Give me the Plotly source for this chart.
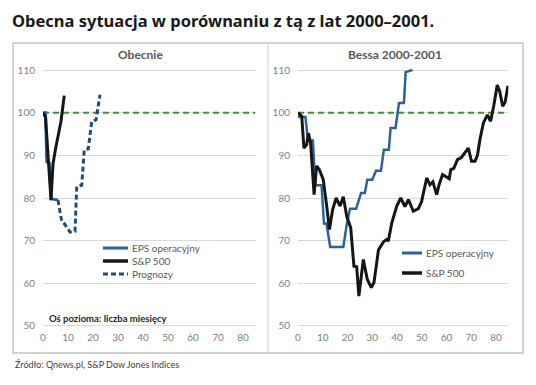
import plotly.graph_objects as go

W, H = 536, 385

# ---------------- data ----------------
# Left panel "Obecnie"
now_eps_x = [0, 1, 1.5, 2.5, 3.3, 6]
now_eps_y = [100, 100, 88.5, 88.2, 79.8, 79.5]
now_sp_x = [0, 1, 3.2, 4, 5, 6.5, 7.2, 8.5]
now_sp_y = [100, 99, 79.5, 88, 91.5, 95.5, 98, 104]
prog_x = [6, 7.5, 8.5, 10.8, 12.8, 13.5, 15.5, 16.5, 18.1, 19.5, 21.2, 22.8]
prog_y = [79.5, 74.5, 74, 72, 72.2, 82.7, 83, 91.3, 91.5, 98, 98.3, 104.2]

# Right panel "Bessa 2000-2001"
bear_eps_x = [0, 0.5, 3, 4, 6, 7, 9.5, 10.5, 11.5, 13, 18.3, 19.7, 21, 23.5, 25.5, 27,
              28, 30, 31.5, 33.5, 34.7, 36.7, 37.4, 39.4, 40.8, 42.8, 43.5, 46.2]
bear_eps_y = [100, 99, 99, 93.5, 93.5, 83, 83, 74, 74, 68.5, 68.5, 73.8, 77.5, 77.5, 81.2, 81.2,
              84.3, 84.3, 86.4, 86.4, 91.3, 91.3, 96.4, 96.4, 102.3, 102.3, 109.5, 110]
bear_sp_x = [0, 1.5, 2.4, 3.5, 4.2, 5.1, 6.5, 7.5, 8.6, 10.2, 11.6, 12.7, 14, 15.4, 17, 18.3,
             19.7, 21.3, 22.6, 23.7, 24.6, 26.4, 28, 29.6, 30.7, 32.5, 34.5, 35.8, 36.5, 37.9,
             39.9, 41.5, 43.2, 44.6, 46.6, 48.6, 49.9, 52, 53.3, 54.5, 56, 57, 58.4, 60, 61.1,
             61.7, 63, 64.4, 66, 68.8, 70.1, 71.5, 72.5, 73.5, 74.9, 76.5, 77.8, 79.1, 80.5,
             81.5, 82.7, 83.7, 84.8]
bear_sp_y = [100, 99.2, 91.7, 92.5, 95.2, 92.9, 80.8, 87.5, 86.7, 84.3, 78.1, 72.6, 77.3, 80, 78.1, 80.3,
             75.7, 73, 64, 63.9, 57, 65.6, 60.9, 59, 60.2, 67.8, 69.7, 70.3, 69.9, 74.2,
             78.1, 80, 78, 79.6, 76.9, 77.5, 79.1, 84.7, 83.1, 83.8, 80.8, 83.1, 85.5, 85, 84.5,
             86.6, 87, 89, 89.5, 91.7, 88.6, 88.6, 90, 93.7, 97.6, 99.5, 98, 101.7, 106.5,
             105, 101.5, 102.5, 106.3]

x_ticks = [0, 10, 20, 30, 40, 50, 60, 70, 80]
y_ticks = [50, 60, 70, 80, 90, 100, 110]
ref_level = 100

title = "Obecna sytuacja w porównaniu z tą z lat 2000–2001."
panel_titles = ["Obecnie", "Bessa 2000-2001"]
legend_left = ["EPS operacyjny", "S&P 500", "Prognozy"]
legend_right = ["EPS operacyjny", "S&P 500"]
axis_note = "Oś pozioma: liczba miesięcy"
source = "Źródło: Qnews.pl, S&P Dow Jones Indices"

# ---------------- styling ----------------
C_EPS = "#2b6494"
C_SP = "#161616"
C_PROG = "#1f4e79"
C_REF = "#4a8c3c"
C_GRID = "#d9d9d9"
C_TICK = "#7f7f7f"
FONT = "Lato"


def px(x):
    return x / W


def py(y):
    return 1 - y / H


fig = go.Figure()

# reference 100 line in both panels
for xa, ya in (("x", "y"), ("x2", "y2")):
    fig.add_trace(go.Scatter(x=[0, 85], y=[ref_level, ref_level], mode="lines",
                             line=dict(color=C_REF, width=2, dash="6px,4px"),
                             xaxis=xa, yaxis=ya, showlegend=False, hoverinfo="skip"))

fig.add_trace(go.Scatter(x=prog_x, y=prog_y, mode="lines",
                         line=dict(color=C_PROG, width=3, dash="5px,3px"),
                         xaxis="x", yaxis="y", showlegend=False))
fig.add_trace(go.Scatter(x=now_eps_x, y=now_eps_y, mode="lines",
                         line=dict(color=C_EPS, width=3), xaxis="x", yaxis="y", showlegend=False))
fig.add_trace(go.Scatter(x=now_sp_x, y=now_sp_y, mode="lines",
                         line=dict(color=C_SP, width=3), xaxis="x", yaxis="y", showlegend=False))

fig.add_trace(go.Scatter(x=bear_eps_x, y=bear_eps_y, mode="lines",
                         line=dict(color=C_EPS, width=2.5), xaxis="x2", yaxis="y2", showlegend=False))
fig.add_trace(go.Scatter(x=bear_sp_x, y=bear_sp_y, mode="lines",
                         line=dict(color=C_SP, width=3), xaxis="x2", yaxis="y2", showlegend=False))

xdom_l = [px(43), px(255.5)]
xdom_r = [px(298), px(508.4)]
ydom = [py(328.1), py(67.9)]

axis_common_x = dict(range=[0, 85], tickvals=x_ticks, showgrid=False, zeroline=False,
                     showline=False, tickfont=dict(family=FONT, size=10, color=C_TICK),
                     ticks="", fixedrange=True, automargin=False, ticklabelstandoff=2)
axis_common_y = dict(range=[49.5, 110.5], tickvals=y_ticks, showgrid=True, gridcolor=C_GRID,
                     gridwidth=1, zeroline=False, showline=False,
                     tickfont=dict(family=FONT, size=10, color=C_TICK), ticks="",
                     ticklabelstandoff=7, fixedrange=True, automargin=False)

shapes = [
    dict(type="rect", xref="paper", yref="paper", x0=px(13), x1=px(523), y0=py(353), y1=py(43),
         line=dict(color="#a6a6a6", width=1)),
    dict(type="line", xref="paper", yref="paper", x0=px(268), x1=px(268), y0=py(353), y1=py(43),
         line=dict(color="#d0d0d0", width=1)),
]

annotations = [
    dict(text=title, x=px(10), y=py(20), xref="paper", yref="paper", xanchor="left", yanchor="middle",
         showarrow=False, font=dict(family="Noto Sans", size=16.5, color="#1a1a1a", weight="bold")),
    dict(text=panel_titles[0], x=px(140), y=py(54), xref="paper", yref="paper", xanchor="center",
         yanchor="middle", showarrow=False, font=dict(family=FONT, size=12, color="#595959", weight="bold")),
    dict(text=panel_titles[1], x=px(395), y=py(54), xref="paper", yref="paper", xanchor="center",
         yanchor="middle", showarrow=False, font=dict(family=FONT, size=12, color="#595959", weight="bold")),
    dict(text=axis_note, x=px(47), y=py(318), xref="paper", yref="paper", xanchor="left",
         yanchor="middle", showarrow=False, font=dict(family=FONT, size=9.5, color="#262626", weight="bold")),
    dict(text=source, x=px(13), y=py(364), xref="paper", yref="paper", xanchor="left",
         yanchor="middle", showarrow=False, font=dict(family=FONT, size=9, color="#404040")),
]

# legends
leg_styles = [dict(color=C_EPS, width=3), dict(color=C_SP, width=3.5),
              dict(color=C_PROG, width=3, dash="5px,3px")]
for i, name in enumerate(legend_left):
    yy = [248, 261, 274][i]
    shapes.append(dict(type="line", xref="paper", yref="paper", x0=px(103), x1=px(128),
                       y0=py(yy), y1=py(yy), line=leg_styles[i]))
    annotations.append(dict(text=name, x=px(130), y=py(yy), xref="paper", yref="paper",
                            xanchor="left", yanchor="middle", showarrow=False,
                            font=dict(family=FONT, size=10, color="#595959")))
for i, name in enumerate(legend_right):
    yy = [253, 273][i]
    shapes.append(dict(type="line", xref="paper", yref="paper", x0=px(402), x1=px(422),
                       y0=py(yy), y1=py(yy), line=leg_styles[i]))
    annotations.append(dict(text=name, x=px(424), y=py(yy), xref="paper", yref="paper",
                            xanchor="left", yanchor="middle", showarrow=False,
                            font=dict(family=FONT, size=10, color="#595959")))

fig.update_layout(
    width=W, height=H, margin=dict(l=0, r=0, t=0, b=0, pad=0),
    paper_bgcolor="white", plot_bgcolor="white", showlegend=False,
    xaxis=dict(domain=xdom_l, anchor="y", **axis_common_x),
    yaxis=dict(domain=ydom, anchor="x", **axis_common_y),
    xaxis2=dict(domain=xdom_r, anchor="y2", **axis_common_x),
    yaxis2=dict(domain=ydom, anchor="x2", **axis_common_y),
    shapes=shapes, annotations=annotations,
)

fig.write_html("out.html", config={"displayModeBar": False},
               post_script="document.body.style.margin='0px';document.body.style.overflow='hidden';")
